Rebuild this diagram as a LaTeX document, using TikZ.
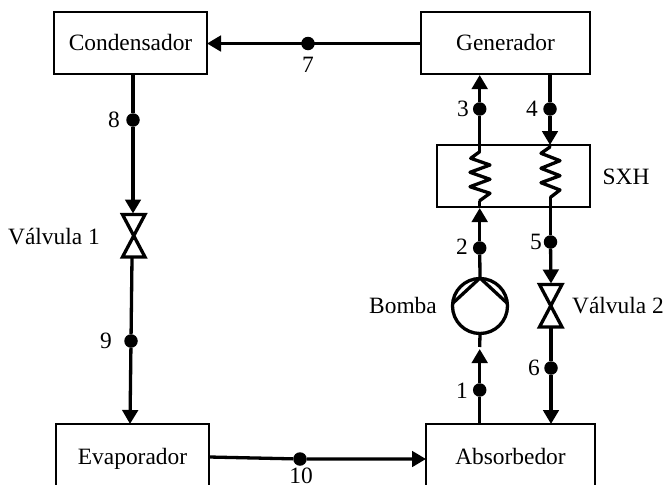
\documentclass[tikz,border=0pt]{standalone}
\usepackage{fontspec}
\setmainfont{Liberation Serif}
\usetikzlibrary{arrows.meta}
\tikzset{
  x=1pt,y=-1pt,
  every node/.style={font=\fontsize{23.4}{28}\selectfont,inner sep=0pt,outer sep=0pt,text height=15pt,text depth=0pt},
  unit/.style={draw,line width=2.2pt,anchor=north west},
  dot/.style={circle,fill=black,minimum size=13.5pt,text height=0pt,text depth=0pt},
  tag/.style={},
  pipe/.style={line width=3.3pt},
  flow/.style={pipe,-{Triangle[width=15.5pt,length=14pt]}},
  valve/.style={line width=3.3pt,miter limit=3,line join=miter},
  coil/.style={line width=3.3pt,line join=round,line cap=round},
  pumpc/.style={draw,circle,line width=3.3pt,minimum size=55pt,text height=0pt,text depth=0pt}
}
\begin{document}
\begin{tikzpicture}
\useasboundingbox (0,0) rectangle (665,485);
\clip (0,0) rectangle (665,485);
% units
\node[unit,minimum width=153pt,minimum height=62pt] (cond) at (54,12) {Condensador};
\node[unit,minimum width=169pt,minimum height=62pt] (gen) at (421,12) {Generador};
\node[unit,minimum width=153pt,minimum height=62pt] (sxh) at (437,145) {};
\node[unit,minimum width=153pt,minimum height=66pt] (evap) at (56,424) {Evaporador};
\node[unit,minimum width=169pt,minimum height=66pt] (abso) at (426,424) {Absorbedor};
\node[pumpc] (pump) at (480,306) {};
% state points
\node[dot] (p1) at (479.7,390) {};
\node[dot] (p2) at (479.7,248) {};
\node[dot] (p3) at (479.7,109) {};
\node[dot] (p4) at (550,109) {};
\node[dot] (p5) at (550.5,242) {};
\node[dot] (p6) at (551,368) {};
\node[dot] (p7) at (308,43.5) {};
\node[dot] (p8) at (133,120) {};
\node[dot] (p9) at (131,341) {};
\node[dot] (p10) at (300,459) {};
% point labels
\node[tag] (t1) at (462,391) {1};
\node[tag] (t2) at (462,247) {2};
\node[tag] (t3) at (463,109) {3};
\node[tag] (t4) at (532,109) {4};
\node[tag] (t5) at (536,242) {5};
\node[tag] (t6) at (534,368) {6};
\node[tag] (t7) at (308,65) {7};
\node[tag] (t8) at (114,120) {8};
\node[tag] (t9) at (106,341) {9};
\node[tag] (t10) at (301,475.5) {10};
\node[tag] (tsxh) at (626,177) {SXH};
\node[tag] (tv1) at (54,237) {Válvula 1};
\node[tag] (tv2) at (618,306) {Válvula 2};
\node[tag] (tb) at (403,306) {Bomba};
% valve and coil anchor coordinates
\coordinate (v1t) at (133,213.5);
\coordinate (v1b) at (132,258);
\coordinate (v2t) at (551,283.5);
\coordinate (v2b) at (551,328);
\coordinate (c1b) at (479.7,200.7);
\coordinate (c1t) at (479.7,151.7);
\coordinate (c2t) at (550,145);
\coordinate (c2b) at (550.5,197.3);
\coordinate (ev9) at (130,424);
\coordinate (ab10) at (426,459);
\coordinate (ev10) at (209,457);
\coordinate (gen7) at (421,43.5);
\coordinate (tip1) at (479.7,349);
\coordinate (stub1) at (479.7,347);
\coordinate (tip2) at (479.7,208);
\coordinate (tip3) at (479.7,75);
\coordinate (ptop) at (480,278);
\coordinate (pl) at (453,303);
\coordinate (pr) at (507,303);
% valves
\draw[valve] (122.5,214.5) -- (145,214.5) -- (122.5,257) -- (145,257) -- cycle;
\draw[valve] (539.5,284.5) -- (562,284.5) -- (539.5,327) -- (562,327) -- cycle;
% coils
\draw[coil] (c1t) -- (470.7,158.3) -- (490,165) -- (470,172.3) -- (490,179.3) -- (470,186.7) -- (490,193.3) -- (c1b);
\draw[coil] (c2t) ++(0,2) -- (541,153.3) -- (560,160.7) -- (541,168.3) -- (560,175.7) -- (541,182.7) -- (560,190) -- (c2b);
% pump blades
\draw[pipe,line join=round] (pl) -- (ptop) -- (pr);
% connectors
\draw[flow] (gen7) -- (cond.east |- gen7);
\draw[pipe] (cond.south -| p8) -- (p8);
\draw[flow] (p8) -- (v1t);
\draw[pipe] (v1b) -- (p9);
\draw[flow] (p9) -- (ev9);
\draw[flow] (ev10) -- (p10) -- (ab10);
\draw[pipe] (p1 |- abso.north) -- (p1);
\draw[flow] (p1) -- (tip1);
\draw[pipe] (pump.south) -- (stub1);
\draw[pipe] (ptop) -- (p2);
\draw[flow] (p2) -- (tip2);
\draw[pipe] (tip2) -- (c1b);
\draw[pipe] (sxh.north -| p3) -- (c1t);
\draw[pipe] (sxh.north -| p3) -- (p3);
\draw[flow] (p3) -- (tip3);
\draw[pipe] (gen.south -| p4) -- (p4);
\draw[flow] (p4) -- (c2t);
\draw[pipe] (c2b) -- (p5);
\draw[flow] (p5) -- (v2t);
\draw[pipe] (v2b) -- (p6);
\draw[flow] (p6) -- (p6 |- abso.north);
\end{tikzpicture}
\end{document}
